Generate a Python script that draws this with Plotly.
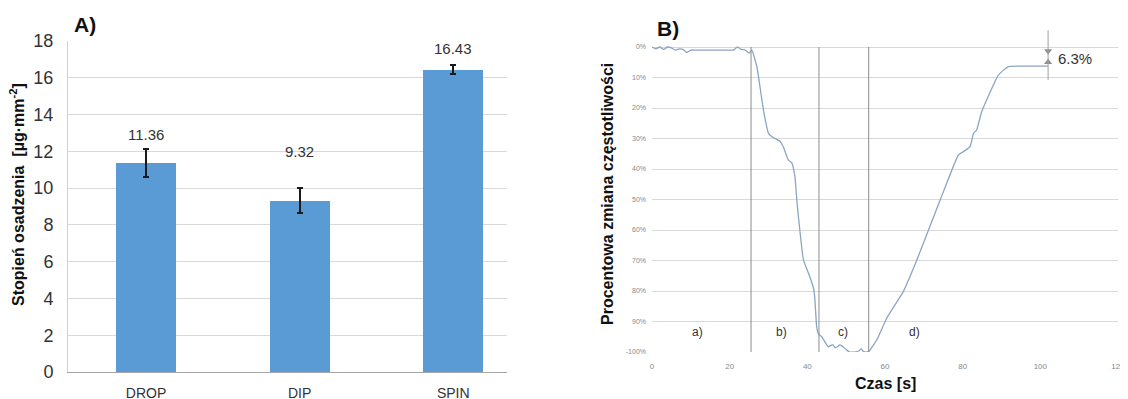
import plotly.graph_objects as go

# ---------------- data ----------------
methods = ["DROP", "DIP", "SPIN"]
deposition = [11.36, 9.32, 16.43]
deposition_err = [0.75, 0.68, 0.25]
label_gap_px = [4, 26, 6]

time_s = [0, 1, 2, 3, 4, 5, 6, 7, 8, 9, 10, 11, 14, 18, 21, 22, 23, 24, 25, 25.7,
          27, 28.7, 30, 31, 33, 33.8, 35.1, 36, 36.8, 37.3, 37.7, 39, 40.3, 41.5, 41.9,
          42.4, 42.8, 43.2, 43.7, 44.5, 45.4, 46.0, 46.6, 47.2, 47.7, 48.3, 48.8, 50.1,
          50.9, 52.6, 53.3, 53.9, 54.4, 54.8, 55.8, 57.9, 60.4, 64.7, 68.2, 71.2, 74.2,
          78.9, 80.2, 81.9, 82.8, 83.6, 84.9, 89.2, 91.8, 97.4, 102]
freq_change = [0, -0.6, 0, -0.8, 0, -0.3, -1.0, -0.6, -0.8, -1.8, -1.0, -1.0, -1.0, -1.0, -1.0,
               0, -0.8, -1.0, -2.0, -1.0,
               -6.4, -20.7, -28.3, -29.5, -31, -32.7, -37, -38, -42.5, -50.2, -55.6, -69.8,
               -74.2, -78.6, -81.9, -91.7, -93.9, -94.5, -95.0, -96.6, -98.3, -97.8, -97.7,
               -98.6, -98.3, -97.7, -97.9, -99.3, -100, -100, -99.6, -99.0, -99.8, -100,
               -99.8, -96, -89, -80.2, -69.8, -60, -50.2, -35.4, -34.3, -32.7, -28.3, -27.2,
               -21.2, -9.2, -6.4, -6.3, -6.3]
phase_bounds = [25.5, 43, 55.8]
phase_labels = ["a)", "b)", "c)", "d)"]
phase_label_x = [11.7, 33.4, 49.1, 67.7]
final_shift = -6.3

pct_ticks = list(range(0, -101, -10))
pct_text = ["0%", "10%", "20%", "30%", "40%", "50%", "60%", "70%", "80%", "90%", "-100%"]
time_ticks = [0, 20, 40, 60, 80, 100, 120]

FONT = "Liberation Sans, Arial, sans-serif"
BAR = "#5B9BD5"
LINE = "#8AA6C4"
GRID = "#d9d9d9"

W, H, OFF = 1128, 399, 8  # page offset of the figure inside the browser window


def px(x):
    return (x - OFF) / W


def py(y):
    return 1 - (y - OFF) / H


fig = go.Figure()

# ---------------- panel A ----------------
fig.add_trace(go.Bar(
    x=methods, y=deposition, width=0.39, marker=dict(color=BAR, line=dict(width=0)),
    error_y=dict(type="data", array=deposition_err, color="#1a1a1a", thickness=2, width=3),
    xaxis="x", yaxis="y", showlegend=False, hoverinfo="skip"))

for m, v, e, g in zip(methods, deposition, deposition_err, label_gap_px):
    fig.add_annotation(x=m, y=v + e, xref="x", yref="y", text=f"{v:.2f}",
                       showarrow=False, xanchor="center", yanchor="bottom", yshift=g,
                       font=dict(family=FONT, size=15, color="#333"))

# ---------------- panel B ----------------
fig.add_trace(go.Scatter(
    x=time_s, y=freq_change, mode="lines", line=dict(color=LINE, width=1.3, shape="spline", smoothing=0.4),
    xaxis="x2", yaxis="y2", showlegend=False, hoverinfo="skip"))

for b in phase_bounds:
    fig.add_shape(type="line", xref="x2", yref="y2", x0=b, x1=b, y0=0, y1=-100,
                  line=dict(color="#8c8c8c", width=1))

for lx, lt in zip(phase_label_x, phase_labels):
    fig.add_annotation(x=lx, y=-93.5, xref="x2", yref="y2", text=lt, showarrow=False,
                       xanchor="center", yanchor="middle",
                       font=dict(family=FONT, size=12, color="#333"))

# dimension marker for final shift
dim_x = 102
fig.add_shape(type="line", xref="x2", yref="y2", x0=dim_x, x1=dim_x, y0=5.5, y1=final_shift - 4.5,
              line=dict(color="#a0a0a0", width=1))
fig.add_trace(go.Scatter(
    x=[dim_x, dim_x], y=[0 - 1.3, final_shift + 1.3], mode="markers",
    marker=dict(symbol=["triangle-down", "triangle-up"], size=7, color="#8c8c8c", line=dict(width=0)),
    xaxis="x2", yaxis="y2", showlegend=False, hoverinfo="skip"))
fig.add_annotation(x=dim_x + 2, y=final_shift / 2 - 0.5, xref="x2", yref="y2", text=f"{abs(final_shift)}%",
                   showarrow=False, xanchor="left", yanchor="middle",
                   font=dict(family=FONT, size=15, color="#333"))

# ---------------- titles / panel letters ----------------
fig.add_annotation(x=px(72), y=py(25), xref="paper", yref="paper", text="<b>A)</b>",
                   showarrow=False, xanchor="left", yanchor="middle",
                   font=dict(family=FONT, size=21, color="#111"))
fig.add_annotation(x=px(655), y=py(28), xref="paper", yref="paper", text="<b>B)</b>",
                   showarrow=False, xanchor="left", yanchor="middle",
                   font=dict(family=FONT, size=21, color="#111"))
fig.add_annotation(x=px(17), y=py(195), xref="paper", yref="paper",
                   text="<b>Stopień osadzenia  [µg·mm<sup>-2</sup>]</b>", textangle=-90,
                   showarrow=False, xanchor="center", yanchor="middle",
                   font=dict(family=FONT, size=16, color="#111"))
fig.add_annotation(x=px(607), y=py(194), xref="paper", yref="paper",
                   text="<b>Procentowa zmiana częstotliwości</b>", textangle=-90,
                   showarrow=False, xanchor="center", yanchor="middle",
                   font=dict(family=FONT, size=16, color="#111"))
fig.add_annotation(x=px(885), y=py(383), xref="paper", yref="paper",
                   text="<b>Czas [s]</b>", showarrow=False, xanchor="center", yanchor="middle",
                   font=dict(family=FONT, size=16, color="#111"))

fig.update_layout(
    width=W, height=H, margin=dict(l=0, r=0, t=0, b=0, autoexpand=False),
    paper_bgcolor="white", plot_bgcolor="white", font=dict(family=FONT),
    bargap=0,
    xaxis=dict(domain=[px(68), px(507)], range=[-0.508, 2.35], showgrid=False,
               showline=True, linecolor="#a6a6a6", linewidth=1, ticks="", automargin=False,
               ticklabelstandoff=8,
               tickfont=dict(family=FONT, size=14, color="#333"), anchor="y", fixedrange=True),
    yaxis=dict(domain=[py(372), py(41)], range=[0, 18], dtick=2, showgrid=True, gridcolor=GRID,
               showline=True, linecolor="#d0d0d0", zeroline=False, ticks="", automargin=False,
               ticklabelstandoff=10,
               tickfont=dict(family=FONT, size=18, color="#333"), anchor="x", fixedrange=True),
    xaxis2=dict(domain=[px(652), px(1118)], range=[0, 120], tickvals=time_ticks,
                showgrid=False, zeroline=False, showline=False, ticks="", automargin=False,
                ticklabelstandoff=8,
                tickfont=dict(family=FONT, size=8, color="#888"), anchor="y2", fixedrange=True),
    yaxis2=dict(domain=[py(352), py(28.7)], range=[-100, 6], tickvals=pct_ticks, ticktext=pct_text,
                showgrid=True, gridcolor=GRID, zeroline=False, showline=False, ticks="", automargin=False,
                ticklabelstandoff=5,
                tickfont=dict(family=FONT, size=7, color="#888"), anchor="x2", fixedrange=True),
)

fig.write_html("out.html")
